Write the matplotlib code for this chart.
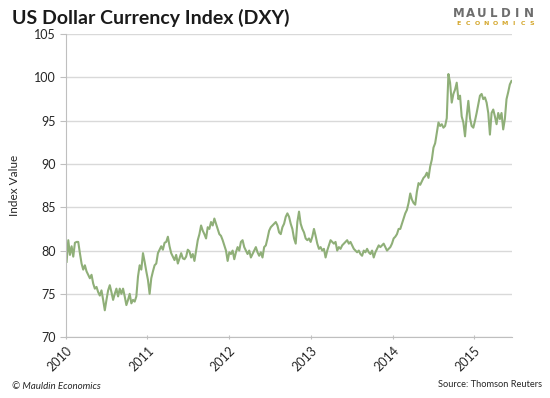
import pandas as pd
import matplotlib
matplotlib.use('Agg')
import matplotlib.pyplot as plt

plt.rcParams['font.family'] = ['Lato', 'DejaVu Sans']

# DXY readings, roughly one per week
dxy_2010 = [78.7, 81.2, 79.5, 80.5, 79.3, 80.9, 81.0, 81.0, 79.7, 78.5,
            77.8, 78.3, 77.6, 77.2, 76.8, 77.2, 76.2, 75.6, 75.8, 75.2,
            74.8, 75.4, 74.3, 73.1, 74.3, 75.4, 76.0, 75.2, 74.3, 75.0,
            75.6, 74.7, 75.6, 75.0, 75.6, 74.7, 73.7, 74.3, 75.0, 73.9,
            74.3, 74.1, 74.7, 77.0, 78.3, 77.8, 79.7, 78.7, 77.6, 76.6,
            75.0, 76.8, 77.6, 78.3, 78.5, 79.7, 80.1, 80.5, 80.1, 80.9,
            81.0, 81.6, 80.5, 79.7, 79.3, 78.9, 79.5, 78.5, 79.1, 79.7,
            79.1, 79.0, 79.3, 80.1, 79.9]
dxy_2011 = [79.2, 79.6, 78.8, 80.0, 81.2, 81.9, 82.9, 82.3, 81.9, 81.4,
            82.7, 82.5, 83.3, 82.9, 83.7, 83.1, 82.5, 81.9, 81.7, 81.2,
            80.6, 80.0, 78.8, 79.8, 79.6, 80.0, 79.0, 79.8, 80.4, 80.0,
            81.0, 81.2, 80.4, 80.0, 79.6, 80.0, 79.2, 79.6, 80.0, 80.4,
            79.8, 79.4, 79.8, 79.2, 80.4, 80.6, 81.4, 82.3, 82.7, 82.9,
            83.1, 83.3, 82.9, 82.1, 81.9, 82.7, 83.1, 83.9, 84.3, 83.9,
            83.1, 82.5, 81.4, 80.8, 83.3, 84.5]
dxy_2013 = [83.1, 82.5, 82.1, 81.4, 81.2, 81.4, 81.0, 81.6, 82.5, 81.7,
            80.8, 80.2, 80.4, 80.0, 80.2, 79.2, 80.0, 80.6, 81.2, 81.0,
            80.8, 81.0, 80.0, 80.4, 80.2, 80.6, 80.8, 81.0, 81.2, 80.8,
            81.0, 80.6, 80.2, 80.0, 79.8, 80.0, 79.6, 79.4, 80.0, 79.8,
            80.2, 79.8, 79.6, 80.0, 79.2, 79.8, 80.2, 80.6, 80.4, 80.6,
            80.8, 80.4, 80.0, 80.2, 80.4, 80.8, 81.4, 81.6, 81.9, 82.5]
dxy_2014 = [82.5, 83.1, 83.7, 84.3, 84.7, 85.5, 86.6, 85.9, 85.5, 85.3,
            86.8, 87.8, 87.6, 88.0, 88.4, 88.6, 89.0, 88.4, 89.7, 90.5,
            91.9, 92.4, 93.6, 94.8, 94.4, 94.6, 94.2, 94.4, 95.3, 100.4,
            99.4, 97.1, 98.1, 98.6, 99.4, 97.5, 97.9, 95.5, 94.8, 93.2,
            95.5, 97.3, 95.3, 94.4, 94.2, 95.0, 95.9, 96.9, 97.9, 98.1,
            97.5, 97.7, 97.1, 95.9, 93.4, 95.9, 96.3, 95.5, 94.6, 95.9,
            95.2, 95.9, 94.0, 95.2, 97.5, 98.3, 99.2, 99.6]

values = dxy_2010 + dxy_2011 + dxy_2013 + dxy_2014
dates = pd.date_range('2010-01-05', '2015-06-17', periods=len(values))
years = [2010, 2011, 2012, 2013, 2014, 2015]
y_ticks = [70, 75, 80, 85, 90, 95, 100, 105]

line_color = '#8FAF78'
grid_color = '#D9D9D9'
text_color = '#262626'

fig = plt.figure(figsize=(5.5, 3.98), dpi=100)
ax = fig.add_axes([0.1195, 0.153, 0.8105, 0.761])

ax.plot(dates, values, color=line_color, lw=1.5, solid_joinstyle='round')

ax.set_ylim(70, 105)
ax.set_yticks(y_ticks)
ax.set_xlim(pd.Timestamp('2010-01-01'), dates[-1])
ax.set_xticks([pd.Timestamp(f'{y}-01-01') for y in years])
ax.set_xticklabels([str(y) for y in years], rotation=45, ha='right',
                   rotation_mode='anchor')
ax.yaxis.grid(True, color=grid_color, lw=1)
ax.set_axisbelow(True)

for s in ['top', 'right']:
    ax.spines[s].set_visible(False)
for s in ['left', 'bottom']:
    ax.spines[s].set_color('#BFBFBF')
ax.tick_params(axis='y', colors='#BFBFBF', length=4, labelsize=9,
               labelcolor=text_color, pad=3)
ax.tick_params(axis='x', colors='#BFBFBF', length=3, direction='inout',
               labelsize=9, labelcolor=text_color, pad=4)
ax.set_ylabel('Index Value', fontsize=8.5, color=text_color, labelpad=10)

fig.text(0.022, 0.955, 'US Dollar Currency Index (DXY)', fontsize=14,
         fontweight='bold', color='#1a1a1a', va='center')

# logo, letters placed one by one for the wide spacing
for i, ch in enumerate('MAULDIN'):
    fig.text(0.834 + i * 0.0212, 0.966, ch, fontsize=8.5, color='#6d6d6d',
             ha='center', va='center', family='DejaVu Sans', fontweight='bold')
for i, ch in enumerate('ECONOMICS'):
    fig.text(0.834 + i * 0.0166, 0.942, ch, fontsize=4.5, color='#D4A72C',
             ha='center', va='center', family='DejaVu Sans', fontweight='bold')

fig.text(0.022, 0.03, '\u00a9 Mauldin Economics', fontsize=7, style='italic',
         color=text_color, va='center')
fig.text(0.985, 0.035, 'Source: Thomson Reuters', fontsize=6.7,
         color=text_color, ha='right', va='center')

fig.savefig('out.png', dpi=100)
